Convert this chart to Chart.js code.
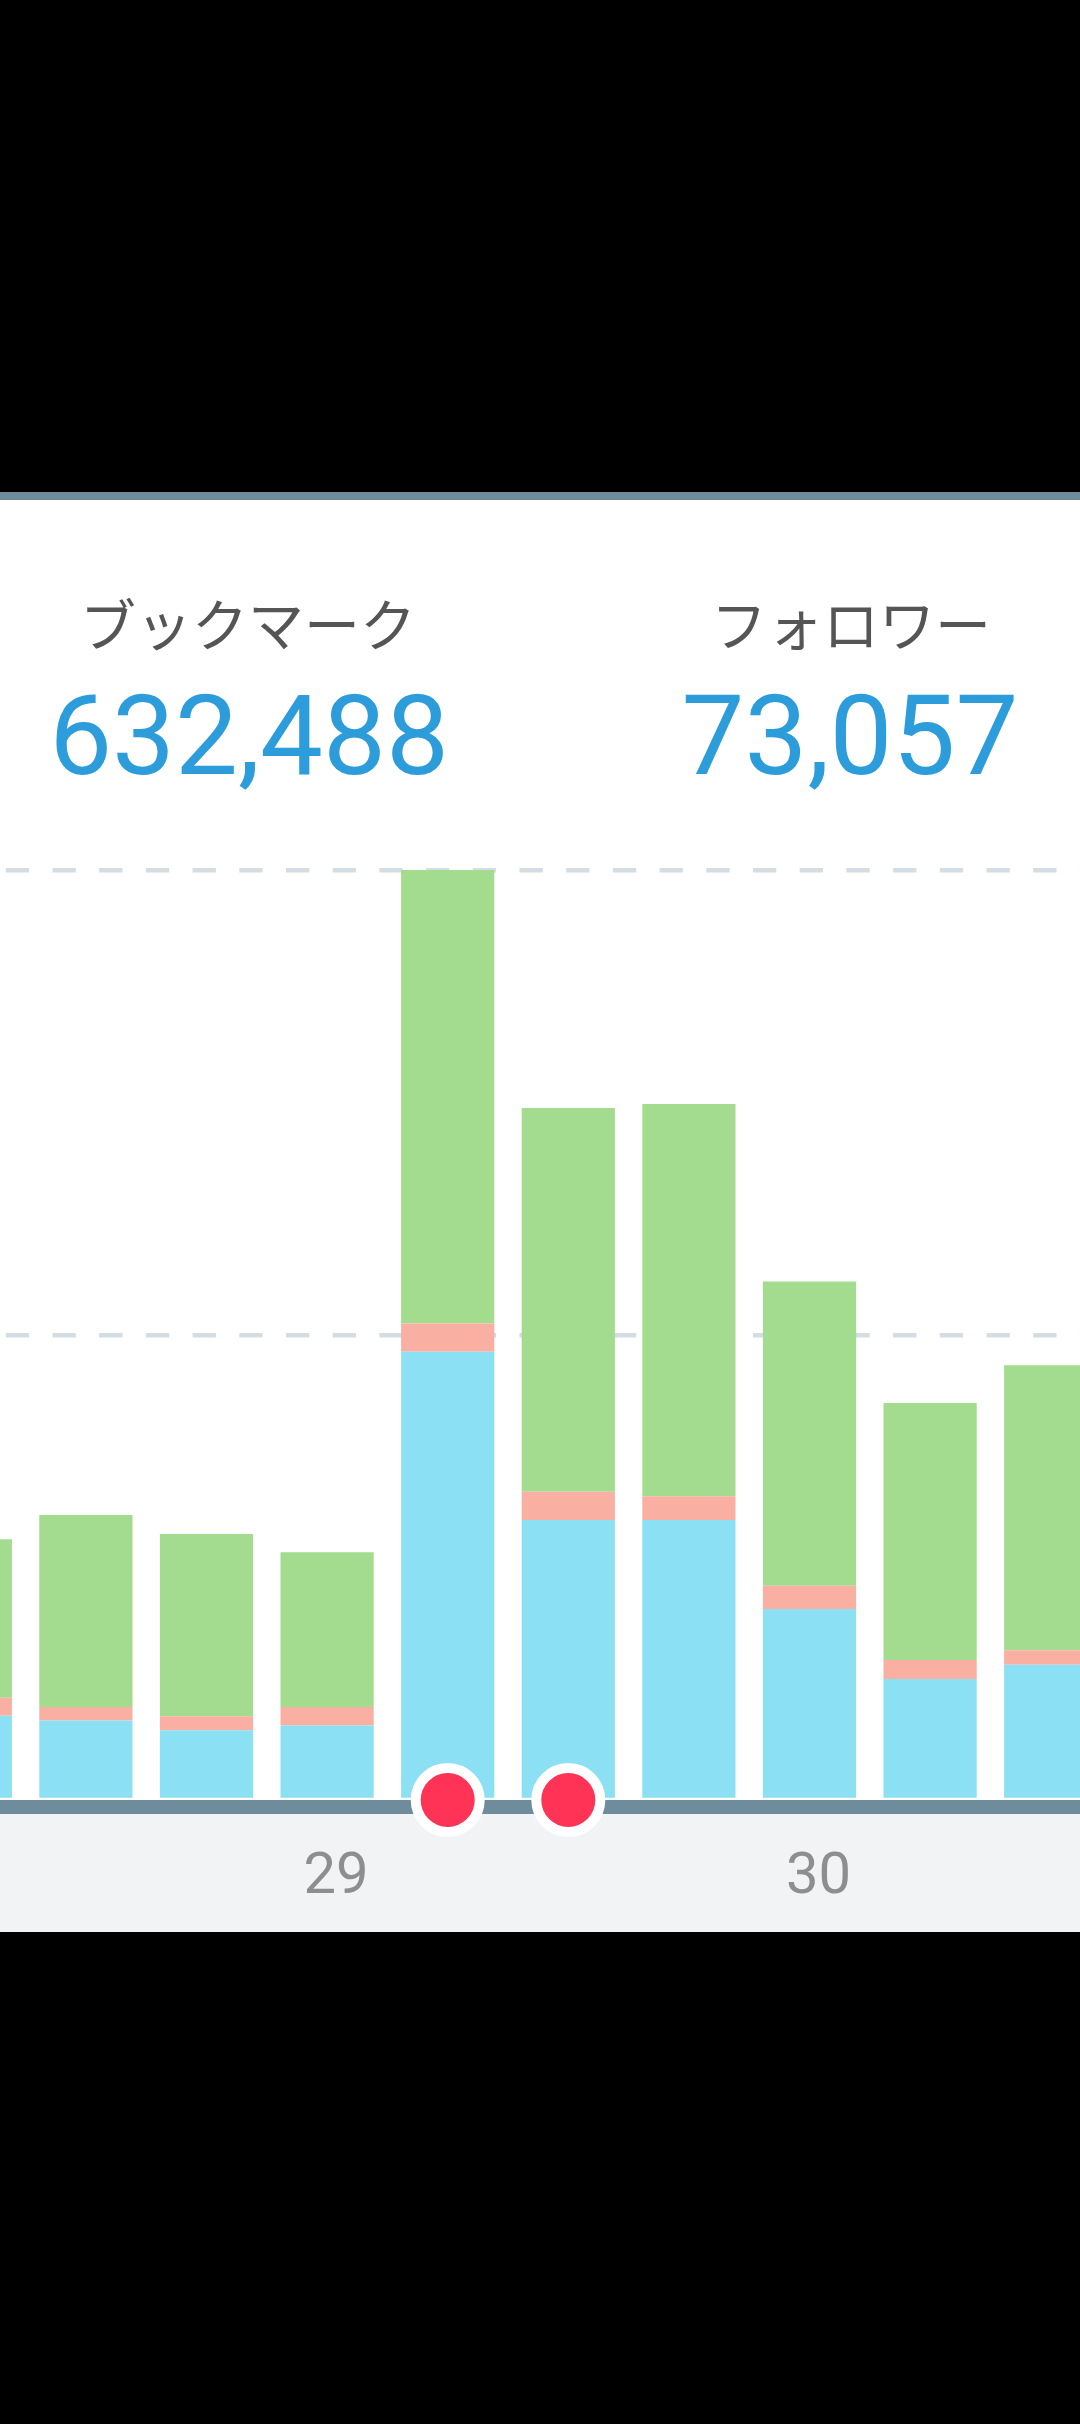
<!DOCTYPE html>
<html>
<head>
<meta charset="utf-8">
<script src="https://cdn.jsdelivr.net/npm/chart.js@4.4.0/dist/chart.umd.min.js"></script>
<style>
    body { margin: 0; background: #000; width: 1080px; height: 2424px; overflow: hidden; position: relative; }
    #topo { position: absolute; left: 0; top: 492px; width: 1080px; height: 8px; background: #6e8c9b; }
    #painel { position: absolute; left: 0; top: 500px; width: 1080px; height: 1314px; background: #fff; }
    #eixo { position: absolute; left: 0; top: 1800px; width: 1080px; height: 14px; background: #6e8c9b; }
    #rodape { position: absolute; left: 0; top: 1814px; width: 1080px; height: 118px; background: #f2f3f5; }
    .titulo { position: absolute; width: 500px; text-align: center; font-family: "Noto Sans CJK JP", sans-serif; font-size: 56px; line-height: 56px; color: #555; top: 594px; }
    .numero { position: absolute; width: 500px; text-align: center; font-family: Roboto, sans-serif; font-size: 112px; line-height: 112px; color: #2d9cdb; top: 680px; }
    #grafico { position: absolute; left: -95px; top: 860px; }
</style>
</head>
<body>
<div id="topo"></div>
<div id="painel"></div>
<div id="eixo"></div>
<div id="rodape"></div>

<div class="titulo" style="left:-2px">ブックマーク</div>
<div class="numero" style="left:-1px">632,488</div>
<div class="titulo" style="left:601px">フォロワー</div>
<div class="numero" style="left:600px">73,057</div>

<canvas id="grafico" width="1206" height="1072"></canvas>

<script>
// valores (de baixo pra cima: azul, rosa, verde)
var dias = ['', '', '', '29', '', '', '', '30', '', '']
var barraAzul = [181, 171, 150, 160, 964, 602, 602, 411, 260, 291]
var barraRosa = [39, 29, 30, 40, 61, 61, 51, 50, 41, 31]
var barraVerde = [341, 413, 392, 333, 975, 825, 844, 654, 553, 613]
// pontos vermelhos em cima do eixo
var marcadores = [null, null, null, null, 0, 0, null, null, null, null]
var escalaY = [0, 1000, 2000]

function carregarGrafico() {

    var barra = {
        type: 'bar',
        stack: 'barras',
        borderWidth: 0,
        barPercentage: 0.773,
        categoryPercentage: 1,
        order: 1
    }

    var config = new Chart(document.getElementById('grafico'), {
        type: 'bar',
        data: {
            labels: dias,
            datasets: [
                {
                    type: 'line',
                    data: marcadores,
                    stack: 'marcadores',
                    showLine: false,
                    pointRadius: 32,
                    pointBorderWidth: 10,
                    pointBackgroundColor: '#ff3355',
                    pointBorderColor: '#ffffff',
                    clip: false,
                    order: 0
                },
                Object.assign({ data: barraAzul, backgroundColor: '#8be1f3' }, barra),
                Object.assign({ data: barraRosa, backgroundColor: '#f9b0a3' }, barra),
                Object.assign({ data: barraVerde, backgroundColor: '#a3dc8f' }, barra)
            ]
        },
        options: {
            responsive: false,
            animation: false,
            events: [],
            // sem autoPadding senao o raio dos pontos empurra a area do grafico
            layout: { autoPadding: false, padding: { top: 10, left: 0, right: 0, bottom: 0 } },
            plugins: {
                legend: { display: false },
                tooltip: { enabled: false }
            },
            scales: {
                x: {
                    stacked: true,
                    grid: { display: false, drawTicks: false },
                    border: { display: false },
                    ticks: {
                        autoSkip: false,
                        maxRotation: 0,
                        padding: 44,
                        labelOffset: 9,
                        color: '#8e8e8e',
                        font: { family: 'Roboto', size: 58 }
                    },
                    afterFit: function (scale) { scale.height = 132 }
                },
                y: {
                    stacked: true,
                    min: escalaY[0],
                    max: escalaY[escalaY.length - 1],
                    ticks: { display: false, stepSize: escalaY[1] - escalaY[0] },
                    grid: {
                        drawTicks: false,
                        lineWidth: 4.5,
                        color: function (ctx) {
                            return ctx.tick && ctx.tick.value === 0 ? 'rgba(0,0,0,0)' : '#d5dde4'
                        }
                    },
                    border: { display: false, dash: [23.3, 23.4], dashOffset: 39.3 },
                    afterFit: function (scale) { scale.width = 0 }
                }
            }
        }
    })
}

carregarGrafico()
</script>
</body>
</html>
